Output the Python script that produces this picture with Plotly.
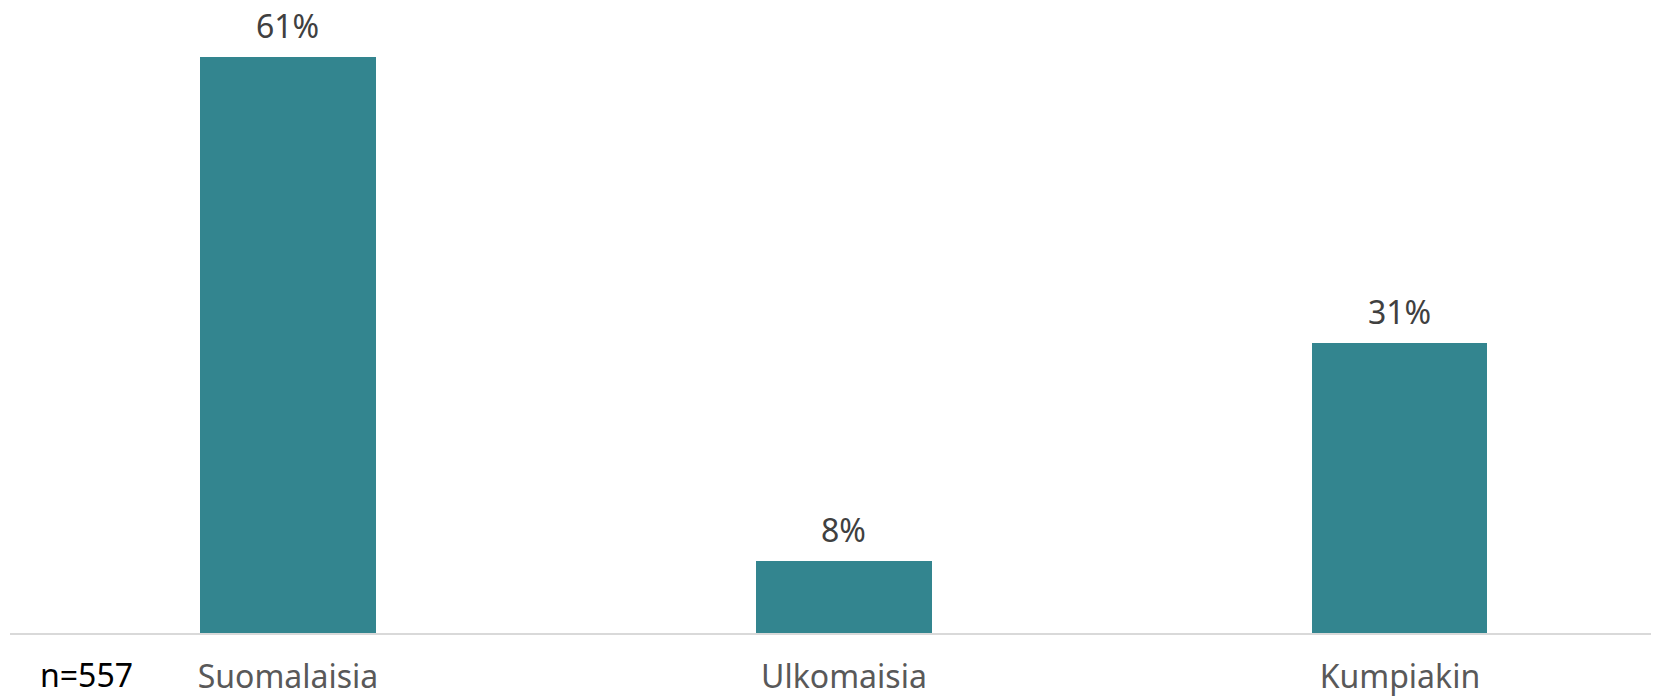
import plotly.graph_objects as go

categories = ["Suomalaisia", "Ulkomaisia", "Kumpiakin"]
values = [61.0, 7.6, 30.7]
labels = ["61%", "8%", "31%"]
sample_note = "n=557"

bar_color = "#33858F"
font_family = "'Noto Sans', Lato, sans-serif"

xs = list(range(len(categories)))

fig = go.Figure()
fig.add_trace(go.Bar(
    x=xs,
    y=values,
    width=0.315,
    marker=dict(color=bar_color, line=dict(width=0)),
    cliponaxis=False,
))

for xv, yv, lab in zip(xs, values, labels):
    fig.add_annotation(
        x=xv, y=yv, text=lab, xref="x", yref="y",
        showarrow=False, yanchor="bottom", yshift=8,
        font=dict(size=32, color="#404040", family=font_family),
    )

fig.update_layout(
    width=1651, height=689,
    margin=dict(l=2, r=0, t=0, b=59),
    plot_bgcolor="white", paper_bgcolor="white",
    showlegend=False,
    bargap=0,
    xaxis=dict(
        range=[-0.5, 2.466],
        tickmode="array",
        tickvals=xs,
        ticktext=categories,
        tickfont=dict(size=32, color="#595959", family=font_family),
        showgrid=False, zeroline=False,
        showline=True, linecolor="#D9D9D9", linewidth=2,
        ticks="", ticklabelstandoff=15,
    ),
    yaxis=dict(
        range=[0, 66.15],
        visible=False, showgrid=False, zeroline=False,
    ),
)

fig.add_annotation(
    text=sample_note, xref="paper", yref="paper",
    x=0, y=0, xanchor="left", yanchor="top",
    xshift=28, yshift=-18,
    showarrow=False,
    font=dict(size=32, color="#000000", family=font_family),
)

fig.write_html("out.html")
